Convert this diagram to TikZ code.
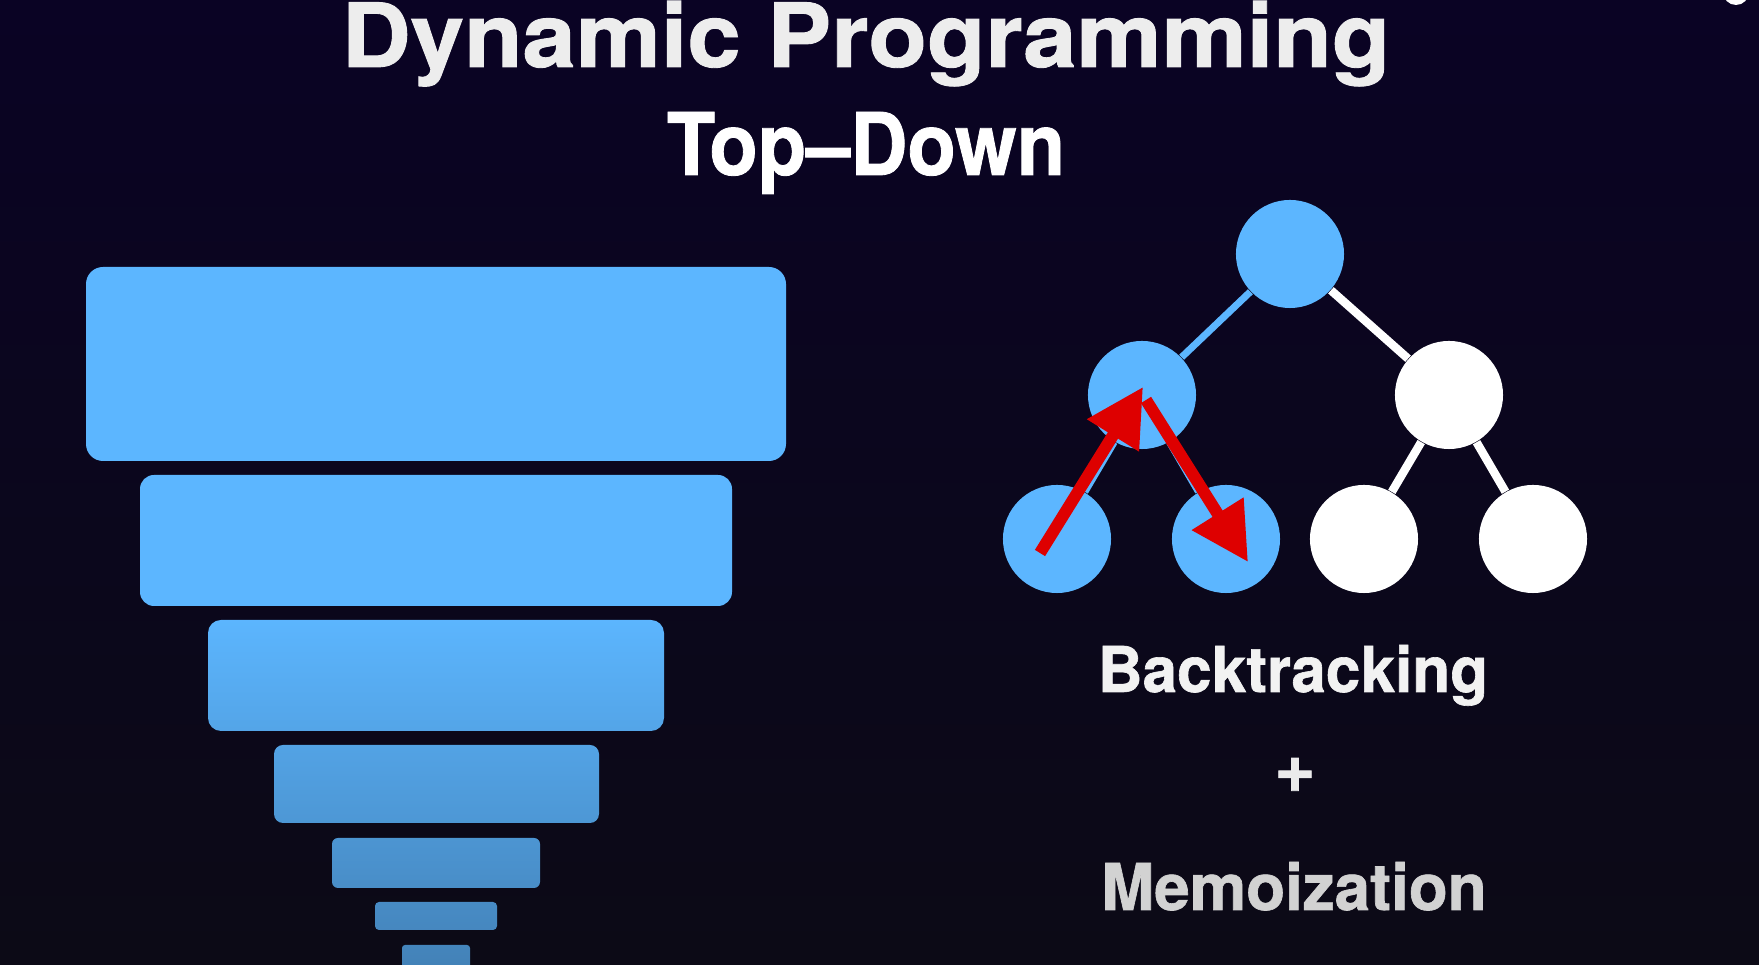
\documentclass[tikz,border=0pt]{standalone}
\usepackage{fontspec}
\setmainfont{TeX Gyre Heros}[BoldFeatures={FakeBold=1}]
\usepackage{graphicx}
\usetikzlibrary{arrows.meta,calc}

\definecolor{bgtop}{RGB}{10,3,36}
\definecolor{bgbot}{RGB}{12,10,22}
\definecolor{stack}{RGB}{92,182,255}
\definecolor{stackdeep}{RGB}{67,130,184}
\definecolor{pathred}{RGB}{222,0,0}
\definecolor{memogray}{RGB}{210,210,210}

\begin{document}
\begin{tikzpicture}[x=0.01cm,y=-0.01cm,
 visited/.style={circle,fill=stack,minimum size=1.08cm,inner sep=0},
 pending/.style={circle,fill=white,minimum size=1.08cm,inner sep=0},
 blueedge/.style={draw=stack,line width=2pt},
 whiteedge/.style={draw=white,line width=2.4pt},
 walk/.style={draw=pathred,line width=3.4pt,-{Triangle[length=0.57cm,width=0.58cm]}},
 caption/.style={inner sep=0,anchor=base,font=\bfseries}]
 \clip (0,0) rectangle (1759,965);
 \shade[top color=bgtop,bottom color=bgbot] (0,0) rectangle (1759,965);
 \fill[white] (1736,-8) circle (0.13cm);

 % the stack of bars
 \begin{scope}
  \clip[rounded corners=0.17cm] (86,267) rectangle (786,461)
   [rounded corners=0.14cm] (140,475) rectangle (732,606)
   [rounded corners=0.13cm] (208,620) rectangle (664,731)
   [rounded corners=0.09cm] (274,745) rectangle (599,823)
   [rounded corners=0.06cm] (332,838) rectangle (540,888)
   [rounded corners=0.04cm] (375,902) rectangle (497,930)
   [rounded corners=0.03cm] (402,945) rectangle (470,975);
  \fill[stack] (0,250) rectangle (800,616);
  \shade[top color=stack,bottom color=stackdeep] (0,615) rectangle (800,965);
 \end{scope}

 \node[caption,text=white!93!black] (heading) at (866,67) {\resizebox{10.48cm}{0.66cm}{Dynamic Programming}};
 \node[caption,text=white] (approach) at (866,175) {\resizebox{3.98cm}{0.63cm}{Top--Down}};

 % recursion tree
 \node[visited] (root) at (1290,254) {};
 \node[visited] (midL) at (1142,395) {};
 \node[pending] (midR) at (1449,395) {};
 \node[visited] (leafA) at (1057,539) {};
 \node[visited] (leafB) at (1226,539) {};
 \node[pending] (leafC) at (1364,539) {};
 \node[pending] (leafD) at (1533,539) {};
 \draw[blueedge] (root) -- (midL);
 \draw[blueedge] (midL) -- (leafA);
 \draw[blueedge] (midL) -- (leafB);
 \draw[whiteedge] (root) -- (midR);
 \draw[whiteedge] (midR) -- (leafC);
 \draw[whiteedge] (midR) -- (leafD);

 \coordinate (climbfrom) at ($(leafA)+(-17,14)$);
 \coordinate (climbto) at ($(midL)+(1,-8)$);
 \coordinate (dropfrom) at ($(midL)+(4,5)$);
 \coordinate (dropto) at ($(leafB)+(22,23)$);
 \draw[walk] (climbfrom) -- (climbto);
 \draw[walk] (dropfrom) -- (dropto);

 \node[caption,text=white!95!black] (backtrack) at (1293,692) {\resizebox{3.90cm}{0.47cm}{Backtracking}};
 \node[caption,anchor=center,text=white!92!black,font=\bfseries\fontsize{20pt}{22pt}\selectfont] (plus) at (1295,775) {+};
 \node[caption,text=memogray] (memo) at (1294,910) {\resizebox{3.85cm}{0.48cm}{Memoization}};
\end{tikzpicture}
\end{document}
